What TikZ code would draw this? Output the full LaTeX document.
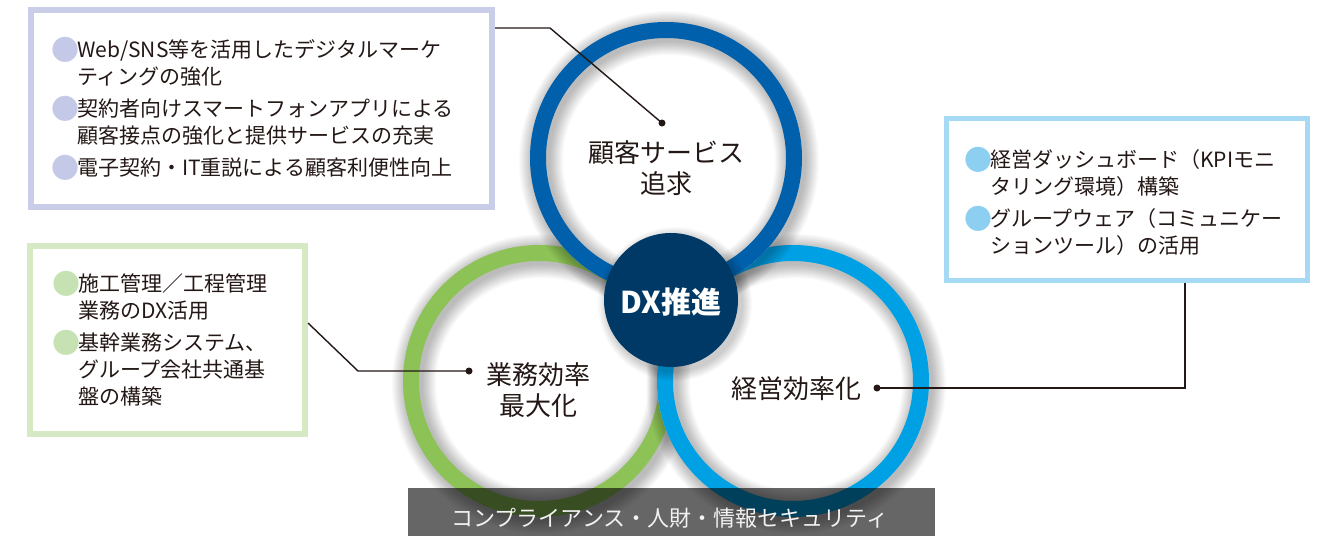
\documentclass[tikz,border=0pt]{standalone}
\usepackage{fontspec}
\setmainfont{Noto Sans CJK JP}
\usetikzlibrary{calc}
\definecolor{txt}{HTML}{231815}
\definecolor{boxa}{HTML}{C9CDE7}
\definecolor{bula}{HTML}{C4C9E7}
\definecolor{boxb}{HTML}{D5E9C4}
\definecolor{bulb}{HTML}{C7E2B2}
\definecolor{boxc}{HTML}{A5D9F4}
\definecolor{bulc}{HTML}{8DCFF1}
\definecolor{ringtop}{HTML}{0060AC}
\definecolor{ringgreen}{HTML}{8DC256}
\definecolor{ringlb}{HTML}{00A0E4}
\definecolor{dxc}{HTML}{003965}
\definecolor{bandtxt}{HTML}{F2F2F2}
\newcommand\bl[1]{\makebox[1em][l]{\hspace*{-5pt}\raisebox{-2.5pt}{\fontsize{28}{28}\selectfont\textcolor{#1}{●}}}}
\newcommand\ind{\hspace*{1em}}
\newcommand\ringsh[2]{%
  \foreach \k in {1,...,14}{%
    \draw[black,opacity=0.02,line width={(16+2*\k)*1pt}] ($(#1,#2)+(3,3)$) circle[radius=128pt];}}
\newcommand\ringdraw[3]{%
  \fill[white] (#1,#2) circle[radius=136pt];
  \ringsh{#1}{#2}
  \draw[#3,line width=16pt] (#1,#2) circle[radius=128pt];}
\tikzset{
  boxbase/.style={draw, fill=white, inner sep=0pt},
  conn/.style={draw=txt, line width=1.4pt},
  dotn/.style={circle, fill=txt, inner sep=0pt, minimum size=7pt},
  itemtext/.style={anchor=north west, align=left, text=txt, inner sep=0pt, font=\fontsize{21}{27}\selectfont},
  lab/.style={align=center, text=txt, inner sep=0pt, font=\fontsize{26}{31}\selectfont},
}
\begin{document}
\begin{tikzpicture}[x=1pt,y=-1pt]
\useasboundingbox (0,0) rectangle (1326,536);
\fill[white] (0,0) rectangle (1326,536);

% boxes
\node[boxbase, draw=boxa, line width=6pt, minimum width=461pt, minimum height=197pt] (box1) at (261.5,108.5) {};
\node[boxbase, draw=boxb, line width=6pt, minimum width=275pt, minimum height=188pt] (box2) at (167.5,340) {};
\node[boxbase, draw=boxc, line width=5pt, minimum width=361pt, minimum height=162pt] (box3) at (1127,199.5) {};

\node[itemtext] (t1) at (56,37) {\bl{bula}Web/SNS等を活用したデジタルマーケ\\
\ind ティングの強化\\[5pt]
\bl{bula}契約者向けスマートフォンアプリによる\\
\ind 顧客接点の強化と提供サービスの充実\\[5pt]
\bl{bula}電子契約・IT重説による顧客利便性向上};

\node[itemtext] (t2) at (57,271) {\bl{bulb}施工管理／工程管理\\
\ind 業務のDX活用\\[5pt]
\bl{bulb}基幹業務システム、\\
\ind グループ会社共通基\\
\ind 盤の構築};

\node[itemtext] (t3) at (969,147) {\bl{bulc}経営ダッシュボード（KPIモニ\\
\ind タリング環境）構築\\[5pt]
\bl{bulc}グループウェア（コミュニケー\\
\ind ションツール）の活用};

% circles
\ringdraw{539}{381}{ringgreen}
\ringdraw{793}{381}{ringlb}
\ringdraw{666}{158}{ringtop}

% DX disc
\foreach \k in {1,...,10}{\fill[black,opacity=0.02] (675,304) circle[radius={(67+\k)*1pt}];}
\fill[dxc] (671,300) circle[radius=67pt];

% connectors
\coordinate (k1) at (550,28);
\node[dotn] (d1) at (662,123) {};
\draw[conn] (box1.east |- k1) -- (k1) -- (d1.center);
\coordinate (s2) at (308,323);
\coordinate (k2) at (358,371);
\node[dotn] (d2) at (469,371) {};
\draw[conn] (box2.east |- s2) -- (k2) -- (d2.center);
\node[dotn] (d3) at (877,388) {};
\coordinate (k3) at (1185,388);
\draw[conn] (d3.center) -- (k3) -- (k3 |- box3.south);

% labels
\node[lab] (lt) at (666,168) {顧客サービス\\追求};
\node[lab] (lg) at (538,390) {業務効率\\最大化};
\node[lab] (lb) at (796,389) {経営効率化};
\node[inner sep=0pt, text=white, font=\fontsize{30}{36}\selectfont\bfseries] (dx) at (671,302) {DX推進};

% band
\fill[black,opacity=0.6] (408,488) rectangle (935,536);
\node[inner sep=0pt, text=bandtxt, font=\fontsize{22}{26}\selectfont] (band) at (670,518) {コンプライアンス・人財・情報セキュリティ};
\end{tikzpicture}
\end{document}
